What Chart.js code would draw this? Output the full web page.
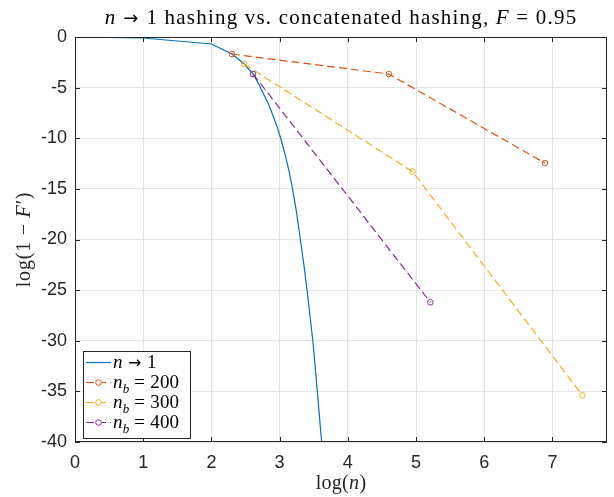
<!DOCTYPE html>
<html>
<head>
<meta charset="utf-8">
<script src="https://cdn.jsdelivr.net/npm/chart.js@4.4.1/dist/chart.umd.min.js"></script>
<style>
html, body { margin: 0; padding: 0; background: #fff; }
canvas { display: block; }
</style>
</head>
<body>
<canvas id="grafico" width="614" height="497"></canvas>
<script>
// valores
const xN1 = [0, 1, 2, 2.30, 2.48, 2.61, 2.69, 2.77, 2.84, 2.90, 2.96, 3.02, 3.08, 3.14, 3.19, 3.25, 3.30, 3.36, 3.42, 3.49, 3.55, 3.62, 3.66];
const yN1 = [0, -0.1, -0.69, -1.68, -2.67, -3.65, -4.6, -5.7, -6.7, -7.7, -8.8, -10.1, -11.6, -13.3, -15.0, -17.4, -19.8, -22.7, -26.0, -30.2, -34.8, -40.3, -43.5];

const x200 = [2.30, 4.60, 6.89];
const y200 = [-1.68, -3.66, -12.45];

const x300 = [2.48, 4.95, 7.44];
const y300 = [-2.67, -13.3, -35.4];

const x400 = [2.61, 5.21];
const y400 = [-3.65, -26.2];

const ticksX = [0, 1, 2, 3, 4, 5, 6, 7];
const ticksY = [0, -5, -10, -15, -20, -25, -30, -35, -40];

const cores = ['#0072BD', '#D95319', '#EDB120', '#7E2F8E'];
const tracejado = [8, 4];

function pontos(xs, ys) {
    return xs.map((x, i) => ({ x: x, y: ys[i] }));
}

// textos com partes em itálico / subscrito / seta
const seta = { t: ' \u2192 ', f: '"DejaVu Sans"', esc: 0.85 };
const legendas = [
    [{ t: 'n', it: true }, seta, { t: '1' }],
    [{ t: 'n', it: true }, { t: 'b', it: true, sub: true }, { t: ' = 200' }],
    [{ t: 'n', it: true }, { t: 'b', it: true, sub: true }, { t: ' = 300' }],
    [{ t: 'n', it: true }, { t: 'b', it: true, sub: true }, { t: ' = 400' }]
];
const titulo = [{ t: 'n', it: true }, seta, { t: '1 hashing vs. concatenated hashing, ' }, { t: 'F', it: true }, { t: ' = 0.95' }];
const tituloX = [{ t: 'log(' }, { t: 'n', it: true }, { t: ')' }];
const tituloY = [{ t: 'log(1 \u2212 ' }, { t: 'F', it: true }, { t: '\u2032)' }];

function fonte(p, tam) {
    let s = p.sub ? Math.round(tam * 0.7) : tam;
    if (p.esc) s = Math.round(s * p.esc);
    const fam = p.f || '"Liberation Serif", "DejaVu Serif", serif';
    return (p.it ? 'italic ' : '') + s + 'px ' + fam;
}

function textoRico(ctx, partes, x, y, tam, alinhar, espaco) {
    ctx.letterSpacing = (espaco || 0) + 'px';
    let total = 0;
    partes.forEach(p => { ctx.font = fonte(p, tam); total += ctx.measureText(p.t).width; });
    let cx = alinhar === 'center' ? x - total / 2 : x;
    partes.forEach(p => {
        ctx.font = fonte(p, tam);
        ctx.fillText(p.t, cx, y + (p.sub ? tam * 0.25 : 0));
        cx += ctx.measureText(p.t).width;
    });
    ctx.letterSpacing = '0px';
}

const extras = {
    id: 'extras',
    afterDatasetsDraw(chart) {
        const ctx = chart.ctx;
        const ca = chart.chartArea;
        const sx = chart.scales.x, sy = chart.scales.y;
        ctx.save();
        // caixa e marcas para dentro
        ctx.strokeStyle = '#262626';
        ctx.lineWidth = 1;
        ctx.beginPath();
        ctx.rect(Math.round(ca.left) + 0.5, Math.round(ca.top) + 0.5, Math.round(ca.right - ca.left) - 1, Math.round(ca.bottom - ca.top) - 1);
        ctx.stroke();
        ctx.beginPath();
        ticksX.forEach(v => {
            const px = Math.round(sx.getPixelForValue(v)) + 0.5;
            ctx.moveTo(px, ca.bottom); ctx.lineTo(px, ca.bottom - 5);
            ctx.moveTo(px, ca.top); ctx.lineTo(px, ca.top + 5);
        });
        ticksY.forEach(v => {
            const py = Math.round(sy.getPixelForValue(v)) + 0.5;
            ctx.moveTo(ca.left, py); ctx.lineTo(ca.left + 5, py);
            ctx.moveTo(ca.right, py); ctx.lineTo(ca.right - 5, py);
        });
        ctx.stroke();

        // legenda
        ctx.fillStyle = '#fff';
        ctx.fillRect(83.5, 351.5, 107, 87);
        ctx.strokeStyle = '#262626';
        ctx.strokeRect(83.5, 351.5, 107, 87);
        legendas.forEach((partes, i) => {
            const yy = 362 + i * 20;
            ctx.strokeStyle = cores[i];
            ctx.lineWidth = 1.2;
            ctx.setLineDash(i === 0 ? [] : tracejado);
            ctx.beginPath();
            ctx.moveTo(86, yy + 0.5); ctx.lineTo(111, yy + 0.5);
            ctx.stroke();
            ctx.setLineDash([]);
            if (i > 0) {
                ctx.fillStyle = '#fff';
                ctx.beginPath();
                ctx.arc(98.5, yy + 0.5, 2.8, 0, Math.PI * 2);
                ctx.fill();
                ctx.lineWidth = 1;
                ctx.stroke();
            }
            ctx.fillStyle = '#000';
            ctx.textBaseline = 'alphabetic';
            textoRico(ctx, partes, 113, yy + 6, 19, 'left', 0.2);
        });

        // títulos
        ctx.fillStyle = '#000';
        textoRico(ctx, titulo, (ca.left + ca.right) / 2, 24, 21, 'center', 1.2);
        ctx.fillStyle = '#262626';
        textoRico(ctx, tituloX, (ca.left + ca.right) / 2, 489, 20, 'center', 0.3);
        ctx.translate(30, (ca.top + ca.bottom) / 2);
        ctx.rotate(-Math.PI / 2);
        textoRico(ctx, tituloY, 0, 0, 20, 'center', 0.8);
        ctx.restore();
    }
};

function serie(xs, ys, i, marcador, ordem) {
    return {
        data: pontos(xs, ys),
        showLine: true,
        borderColor: cores[i],
        borderWidth: 1.2,
        borderDash: i === 0 ? [] : tracejado,
        pointRadius: marcador ? 2.8 : 0,
        pointBorderWidth: 1,
        pointBorderColor: cores[i],
        pointBackgroundColor: 'rgba(0,0,0,0)',
        pointHoverRadius: 0,
        tension: 0,
        order: ordem
    };
}

const ctxGrafico = document.getElementById('grafico').getContext('2d');
const grafico = new Chart(ctxGrafico, {
    type: 'scatter',
    data: {
        datasets: [
            serie(xN1, yN1, 0, false, 3),
            serie(x200, y200, 1, true, 2),
            serie(x300, y300, 2, true, 1),
            serie(x400, y400, 3, true, 0)
        ]
    },
    options: {
        responsive: false,
        animation: false,
        devicePixelRatio: 1,
        layout: { padding: { top: 37, right: 7, left: 0, bottom: 0 } },
        plugins: {
            legend: { display: false },
            title: { display: false },
            tooltip: { enabled: false }
        },
        scales: {
            x: {
                type: 'linear',
                min: 0,
                max: 7.8,
                afterBuildTicks: s => { s.ticks = ticksX.map(v => ({ value: v })); },
                afterFit: s => { s.height = 55; },
                ticks: {
                    color: '#262626',
                    font: { family: '"Liberation Sans", Arial, sans-serif', size: 18 },
                    padding: 10,
                    maxRotation: 0
                },
                grid: { color: '#e5e5e5', drawTicks: false },
                border: { display: false }
            },
            y: {
                type: 'linear',
                min: -40,
                max: 0,
                afterBuildTicks: s => { s.ticks = ticksY.map(v => ({ value: v })); },
                afterFit: s => { s.width = 75; },
                ticks: {
                    color: '#262626',
                    font: { family: '"Liberation Sans", Arial, sans-serif', size: 18 },
                    padding: 8
                },
                grid: { color: '#e5e5e5', drawTicks: false },
                border: { display: false }
            }
        }
    },
    plugins: [extras]
});
</script>
</body>
</html>
